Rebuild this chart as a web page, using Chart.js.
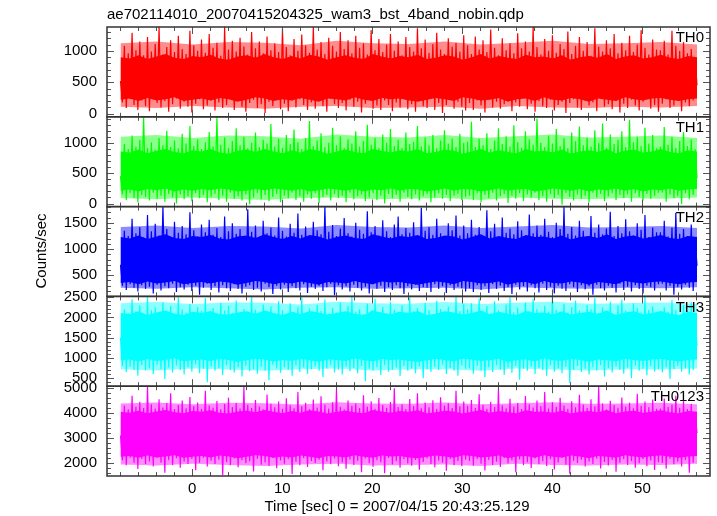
<!DOCTYPE html>
<html>
<head>
<meta charset="utf-8">
<title>ae702114010 wam3 bst 4band light curve</title>
<script src="https://cdn.jsdelivr.net/npm/chart.js@4.4.0/dist/chart.umd.min.js"></script>
<style>
  html, body { margin: 0; padding: 0; background: #fff; }
  #lc { display: block; }
</style>
</head>
<body>
<canvas id="lc" width="717" height="516"></canvas>
<script>
// time range of the light curve (sec, 0 = 2007/04/15 20:43:25.129)
var tStart = -7.96;
var tEnd = 56.06;

// counts/sec, evenly spaced in time (peaks and dips)
var th0 = [
  520, 180, 1080, 90, 960, 230, 1290, 140, 1010, 60, 1150, 210, 930, 120, 1220, 40, 990, 250, 1110, 170,
  1380, 100, 940, 200, 1060, 30, 1170, 150, 980, 240, 1240, 80, 1030, 190, 950, 110, 1320, 20, 1090, 160,
  1000, 230, 1180, 70, 970, 130, 1270, 210, 1050, 50, 1130, 180, 920, 90, 1380, 140, 1020, 240, 1160, 60,
  990, 200, 1210, 110, 1070, 30, 940, 170, 1300, 220, 1040, 90, 1150, 150, 960, 10, 1230, 190, 1010, 120,
  1120, 250, 980, 70, 1350, 160, 1060, 40, 930, 210, 1190, 100, 1000, 230, 1260, 140, 1090, 60, 970, 180,
  1380, 80, 1020, 200, 1140, 120, 950, 30, 1210, 240, 1080, 150, 990, 90, 1300, 170, 1030, 50, 1170, 220,
  960, 110, 1240, 190, 1050, 20, 1120, 160, 940, 230, 1330, 80, 1010, 130, 1190, 60, 980, 210, 1100, 140,
  1270, 40, 1000, 180, 1150, 100, 930, 250, 1220, 70, 1060, 150, 990, 30, 1360, 200, 1040, 120, 1180, 90,
  970, 240, 1110, 60, 1290, 170, 1020, 10, 950, 140, 1200, 220, 1070, 80, 1130, 190, 990, 110, 1250, 50,
  1090, 170, 950, 60, 1230, 210, 1020, 130, 1170, 20, 980, 240, 1340, 100, 1050, 190, 930, 80, 1200, 150,
  1010, 230, 1120, 40, 960, 180, 1280, 110, 1040, 250, 1150, 70, 990, 160, 1380, 30, 1060, 200, 940, 120,
  1190, 90, 1000, 220, 1250, 50, 970, 140, 1110, 190, 1030, 10, 1310, 170, 950, 230, 1080, 100, 1220, 60,
  1000, 210, 1140, 130, 920, 180, 1360, 40, 1070, 240, 990, 110, 1170, 150, 1040, 70, 1270, 200, 960, 20,
  1130, 160, 1010, 90, 1240, 220, 980, 130, 1100, 50, 1330, 190, 1050, 240, 940, 80, 1180, 140, 1020, 30,
  1010, 160, 1160, 230, 940, 90, 1320, 130, 1080, 200, 1000, 40, 1140, 180, 960, 120, 1030, 210, 880, 450
];
var th1 = [
  450, 150, 980, 60, 900, 170, 1120, 90, 940, 20, 1050, 140, 1430, 110, 920, 50, 1010, 180, 890, 80,
  1080, 130, 960, 30, 1200, 160, 930, 100, 1040, 0, 910, 150, 1150, 70, 990, 120, 1280, 40, 950, 170,
  1060, 90, 900, 140, 1010, 20, 1180, 110, 940, 160, 1430, 60, 970, 130, 1090, 30, 920, 180, 1030, 80,
  1240, 120, 960, 50, 1100, 150, 910, -10, 1000, 100, 1170, 170, 930, 70, 1050, 140, 990, 40, 1310, 110,
  940, 160, 1070, 20, 920, 130, 1130, 90, 980, 180, 1220, 60, 1010, 120, 900, 30, 1080, 150, 1360, 80,
  950, 170, 1040, 10, 1160, 110, 930, 140, 1000, 50, 1250, 160, 960, 90, 1110, 130, 920, 20, 1060, 180,
  990, 70, 1190, 120, 940, 150, 1030, 40, 1300, 100, 970, 170, 1080, 60, 910, 130, 1140, 0, 1000, 160,
  1230, 90, 950, 140, 1050, 30, 920, 180, 1170, 110, 980, 70, 1020, 150, 1280, 50, 940, 120, 1090, 160,
  960, 20, 1130, 100, 910, 170, 1040, 80, 1210, 140, 990, 40, 1070, 130, 930, 160, 1150, 60, 1000, 110,
  1020, 130, 1350, 60, 930, 170, 1070, 20, 960, 140, 1160, 90, 900, 180, 1040, 50, 1240, 120, 980, 160,
  1110, 10, 940, 130, 1290, 80, 1010, 170, 920, 40, 1190, 150, 1060, 100, 970, 180, 1400, 60, 1000, 120,
  930, 30, 1120, 160, 990, 90, 1230, 140, 950, -20, 1080, 170, 910, 110, 1170, 50, 1030, 150, 1270, 80,
  960, 130, 1090, 20, 940, 180, 1210, 100, 1000, 160, 1320, 40, 920, 120, 1140, 170, 980, 60, 1050, 140,
  1190, 90, 930, 150, 1380, 30, 1010, 170, 1100, 110, 950, 50, 1250, 160, 990, 80, 1130, 130, 910, 180,
  940, 180, 1260, 30, 970, 150, 1100, 90, 920, 120, 1030, -10, 1180, 170, 950, 70, 1060, 140, 900, 420
];
var th2 = [
  700, 300, 1350, 220, 1250, 330, 1580, 260, 1300, 190, 1420, 310, 1220, 240, 1650, 280, 1340, 150, 1480, 320,
  1260, 210, 1810, 290, 1380, 250, 1230, 340, 1520, 180, 1310, 270, 1440, 230, 1280, 320, 1700, 200, 1360, 300,
  1240, 130, 1470, 260, 1320, 340, 1560, 220, 1270, 290, 1400, 170, 1230, 310, 1620, 250, 1340, 200, 1490, 330,
  1290, 240, 1380, 150, 1250, 280, 1760, 310, 1330, 220, 1450, 260, 1220, 190, 1540, 340, 1300, 270, 1410, 140,
  1260, 300, 1600, 230, 1350, 320, 1240, 180, 1480, 290, 1310, 250, 1680, 210, 1270, 330, 1430, 160, 1230, 280,
  1520, 240, 1360, 300, 1280, 200, 1810, 270, 1330, 340, 1460, 120, 1250, 310, 1390, 230, 1590, 290, 1300, 190,
  1240, 320, 1500, 260, 1370, 210, 1290, 280, 1720, 150, 1320, 330, 1440, 240, 1260, 300, 1550, 180, 1340, 270,
  1230, 220, 1470, 310, 1620, 250, 1280, 140, 1400, 290, 1310, 230, 1510, 320, 1250, 200, 1790, 270, 1350, 260,
  1420, 180, 1270, 330, 1580, 240, 1300, 290, 1230, 160, 1490, 310, 1360, 220, 1640, 280, 1260, 250, 1450, 190,
  1300, 250, 1560, 180, 1270, 310, 1420, 220, 1250, 290, 1740, 160, 1340, 330, 1480, 240, 1230, 300, 1600, 200,
  1310, 270, 1390, 140, 1280, 320, 1530, 230, 1360, 290, 1240, 190, 1660, 310, 1300, 250, 1450, 170, 1270, 340,
  1580, 220, 1330, 280, 1230, 150, 1500, 300, 1380, 240, 1800, 200, 1290, 330, 1420, 270, 1260, 180, 1540, 310,
  1350, 230, 1240, 290, 1630, 130, 1310, 320, 1470, 250, 1280, 210, 1390, 300, 1710, 260, 1250, 170, 1440, 340,
  1300, 220, 1570, 280, 1340, 190, 1260, 310, 1490, 240, 1370, 150, 1650, 300, 1230, 270, 1410, 210, 1320, 330,
  1320, 340, 1540, 210, 1240, 300, 1410, 130, 1690, 270, 1290, 230, 1380, 320, 1250, 260, 1470, 200, 1180, 680
];
var th3 = [
  1500, 800, 2200, 650, 2100, 780, 2450, 700, 2150, 560, 2300, 820, 2080, 690, 2520, 740, 2180, 600, 2250, 830,
  2060, 720, 2380, 480, 2140, 760, 2280, 640, 2090, 810, 2500, 700, 2200, 590, 2120, 770, 2330, 660, 2070, 840,
  2260, 620, 2160, 730, 2480, 400, 2100, 790, 2230, 680, 2050, 750, 2360, 580, 2170, 820, 2290, 700, 2110, 640,
  2420, 760, 2080, 540, 2210, 800, 2140, 670, 2520, 720, 2190, 610, 2060, 780, 2320, 690, 2150, 450, 2270, 830,
  2090, 740, 2400, 630, 2180, 770, 2030, 700, 2350, 560, 2130, 810, 2250, 650, 2500, 760, 2100, 600, 2220, 720,
  2070, 790, 2310, 680, 2160, 530, 2440, 740, 2090, 820, 2240, 640, 2120, 710, 2370, 590, 2060, 780, 2280, 670,
  2510, 750, 2140, 620, 2200, 800, 2080, 420, 2340, 730, 2170, 690, 2460, 770, 2110, 580, 2260, 820, 2050, 660,
  2390, 710, 2190, 760, 2130, 550, 2300, 800, 2070, 680, 2490, 740, 2150, 620, 2230, 790, 2100, 500, 2360, 720,
  2180, 650, 2040, 780, 2410, 700, 2210, 830, 2120, 600, 2270, 750, 2080, 680, 2520, 560, 2160, 810, 2330, 730,
  2200, 740, 2350, 610, 2080, 800, 2470, 690, 2150, 520, 2280, 770, 2100, 650, 2400, 820, 2180, 710, 2060, 580,
  2320, 760, 2500, 630, 2130, 800, 2240, 460, 2090, 730, 2370, 680, 2160, 790, 2450, 600, 2210, 750, 2070, 700,
  2290, 560, 2140, 820, 2520, 660, 2190, 740, 2050, 620, 2340, 780, 2120, 380, 2260, 710, 2420, 800, 2170, 650,
  2080, 730, 2310, 590, 2200, 770, 2480, 690, 2110, 820, 2250, 540, 2150, 750, 2390, 640, 2060, 790, 2300, 700,
  2440, 610, 2170, 760, 2090, 500, 2350, 810, 2230, 680, 2120, 740, 2510, 570, 2190, 800, 2270, 660, 2100, 720,
  2090, 640, 2250, 770, 2140, 480, 2430, 720, 2190, 800, 2060, 660, 2310, 740, 2170, 590, 2380, 700, 2000, 1300
];
var th0123 = [
  3100, 2100, 4300, 1900, 4150, 2200, 4700, 2000, 4250, 1750, 4450, 2150, 4200, 1950, 5080, 2050, 4350, 1850, 4180, 2200,
  4550, 2000, 4220, 1600, 4400, 2100, 4800, 1900, 4160, 2180, 4320, 1800, 4500, 2050, 4190, 1950, 4650, 2150, 4280, 1700,
  4420, 2000, 4170, 2200, 4900, 1850, 4300, 2080, 4210, 1950, 4480, 2120, 4150, 1500, 4360, 2030, 4620, 1900, 4240, 2170,
  4400, 1820, 4180, 2100, 5050, 1980, 4330, 2060, 4200, 1650, 4520, 2150, 4260, 1920, 4150, 2010, 4750, 1870, 4370, 2190,
  4230, 1780, 4460, 2090, 4170, 1960, 4590, 2140, 4310, 1550, 4190, 2040, 4850, 1900, 4270, 2180, 4410, 1830, 4160, 2070,
  4540, 1990, 4220, 2120, 4680, 1700, 4340, 2050, 4180, 1940, 4430, 2160, 4960, 1860, 4250, 2010, 4150, 1760, 4500, 2130,
  4290, 1910, 4380, 2080, 4200, 1620, 4720, 2170, 4260, 1980, 4470, 1840, 4170, 2100, 4600, 2020, 4320, 1580, 4210, 2190,
  4440, 1930, 5000, 2060, 4240, 1800, 4350, 2140, 4160, 1970, 4560, 1880, 4280, 2110, 4800, 1720, 4190, 2030, 4420, 2180,
  4230, 1950, 4510, 1820, 4170, 2090, 4640, 2000, 4300, 1680, 4390, 2150, 4200, 1900, 4900, 2070, 4270, 1860, 4460, 2120,
  4290, 2070, 4520, 1880, 4200, 2150, 4760, 1960, 4330, 1690, 4170, 2110, 4450, 1910, 4240, 2040, 4980, 1830, 4310, 2180,
  4190, 1970, 4570, 2090, 4260, 1620, 4400, 2130, 4160, 1900, 4690, 2020, 4350, 1790, 4220, 2170, 4500, 1940, 4280, 2060,
  4850, 1870, 4180, 2140, 4430, 1730, 4250, 2010, 4610, 2190, 4300, 1920, 4170, 1560, 4470, 2080, 4230, 1990, 4740, 2120,
  4340, 1850, 4200, 2050, 4550, 1950, 4270, 2160, 5060, 1770, 4380, 2030, 4150, 1890, 4490, 2110, 4320, 1640, 4210, 2000,
  4630, 2140, 4260, 1910, 4410, 2070, 4190, 1800, 4780, 1980, 4290, 2150, 4460, 1860, 4230, 2090, 4540, 1710, 4170, 2020,
  4180, 1990, 4580, 1760, 4250, 2160, 4340, 1940, 4700, 2040, 4210, 1850, 4480, 2100, 4160, 1600, 4370, 2000, 4050, 3200
];

// edges of the solid middle of each band, one value per second
var th0CoreHi = [
  900, 880, 930, 870, 910, 950, 890, 870, 920, 900, 940, 880, 860, 910, 930, 890, 950, 900, 870, 920,
  880, 940, 910, 860, 900, 930, 890, 870, 950, 910, 880, 920, 900, 940, 870, 890, 930, 910, 860, 900,
  950, 880, 920, 890, 870, 940, 900, 910, 880, 930, 860, 900, 920, 890, 950, 870, 910, 930, 880, 900,
  940, 890, 870, 920, 900
];
var th0CoreLo = [
  220, 240, 200, 250, 210, 230, 260, 200, 220, 240, 210, 250, 230, 190, 220, 260, 240, 200, 230, 210,
  250, 220, 190, 240, 230, 210, 260, 220, 200, 250, 230, 240, 210, 190, 220, 250, 230, 200, 260, 240,
  210, 220, 250, 190, 230, 240, 200, 260, 220, 210, 250, 230, 190, 240, 220, 200, 260, 230, 210, 240,
  250, 220, 200, 230, 240
];
var th1CoreHi = [
  860, 840, 890, 830, 870, 900, 850, 830, 880, 860, 900, 840, 820, 870, 890, 850, 900, 860, 830, 880,
  840, 900, 870, 820, 860, 890, 850, 830, 900, 870, 840, 880, 860, 900, 830, 850, 890, 870, 820, 860,
  900, 840, 880, 850, 830, 900, 860, 870, 840, 890, 820, 860, 880, 850, 900, 830, 870, 890, 840, 860,
  900, 850, 830, 880, 860
];
var th1CoreLo = [
  210, 230, 200, 240, 220, 250, 200, 230, 210, 240, 220, 250, 230, 200, 210, 240, 220, 250, 230, 210,
  240, 200, 220, 250, 230, 210, 240, 200, 230, 220, 250, 210, 240, 230, 200, 220, 250, 210, 240, 230,
  200, 220, 250, 210, 230, 240, 200, 220, 250, 230, 210, 240, 200, 230, 220, 250, 210, 240, 200, 230,
  220, 250, 210, 230, 240
];
var th2CoreHi = [
  1230, 1200, 1260, 1190, 1240, 1280, 1210, 1190, 1250, 1230, 1270, 1200, 1180, 1240, 1260, 1210, 1280, 1230, 1190, 1250,
  1200, 1270, 1240, 1180, 1230, 1260, 1210, 1190, 1280, 1240, 1200, 1250, 1230, 1270, 1190, 1210, 1260, 1240, 1180, 1230,
  1280, 1200, 1250, 1210, 1190, 1270, 1230, 1240, 1200, 1260, 1180, 1230, 1250, 1210, 1280, 1190, 1240, 1260, 1200, 1230,
  1270, 1210, 1190, 1250, 1230
];
var th2CoreLo = [
  350, 370, 330, 380, 340, 360, 390, 330, 350, 370, 340, 380, 360, 320, 350, 390, 370, 330, 360, 340,
  380, 350, 320, 370, 360, 340, 390, 350, 330, 380, 360, 370, 340, 320, 350, 380, 360, 330, 390, 370,
  340, 350, 380, 320, 360, 370, 330, 390, 350, 340, 380, 360, 320, 370, 350, 330, 390, 360, 340, 370,
  380, 350, 330, 360, 370
];
var th3CoreHi = [
  2110, 2080, 2150, 2060, 2120, 2170, 2090, 2060, 2140, 2110, 2160, 2080, 2070, 2120, 2150, 2090, 2170, 2110, 2060, 2140,
  2080, 2160, 2120, 2070, 2110, 2150, 2090, 2060, 2170, 2120, 2080, 2140, 2110, 2160, 2060, 2090, 2150, 2120, 2070, 2110,
  2170, 2080, 2140, 2090, 2060, 2160, 2110, 2120, 2080, 2150, 2070, 2110, 2140, 2090, 2170, 2060, 2120, 2150, 2080, 2110,
  2160, 2090, 2060, 2140, 2110
];
var th3CoreLo = [
  940, 960, 910, 970, 920, 950, 990, 910, 940, 960, 920, 970, 950, 900, 940, 980, 960, 910, 950, 920,
  970, 940, 900, 960, 950, 920, 990, 940, 910, 970, 950, 960, 920, 900, 940, 970, 950, 910, 980, 960,
  920, 940, 970, 900, 950, 960, 910, 990, 940, 920, 970, 950, 900, 960, 940, 910, 980, 950, 920, 960,
  970, 940, 910, 950, 960
];
var th0123CoreHi = [
  4050, 4010, 4090, 3990, 4060, 4120, 4030, 3990, 4080, 4050, 4110, 4010, 3980, 4060, 4090, 4030, 4120, 4050, 3990, 4080,
  4010, 4110, 4060, 3980, 4050, 4090, 4030, 3990, 4120, 4060, 4010, 4080, 4050, 4110, 3990, 4030, 4090, 4060, 3980, 4050,
  4120, 4010, 4080, 4030, 3990, 4110, 4050, 4060, 4010, 4090, 3980, 4050, 4080, 4030, 4120, 3990, 4060, 4090, 4010, 4050,
  4110, 4030, 3990, 4080, 4050
];
var th0123CoreLo = [
  2240, 2270, 2200, 2290, 2210, 2250, 2300, 2200, 2240, 2270, 2210, 2290, 2250, 2180, 2240, 2300, 2270, 2200, 2250, 2210,
  2290, 2240, 2180, 2270, 2250, 2210, 2300, 2240, 2200, 2290, 2250, 2270, 2210, 2180, 2240, 2290, 2250, 2200, 2300, 2270,
  2210, 2240, 2290, 2180, 2250, 2270, 2200, 2300, 2240, 2210, 2290, 2250, 2180, 2270, 2240, 2200, 2300, 2250, 2210, 2270,
  2290, 2240, 2200, 2250, 2270
];

// the half-covered fringe around each band, one value every ~4 sec
var th0FringeHi = [1120, 1150, 1100, 1140, 1130, 1090, 1160, 1120, 1110, 1150, 1100, 1130, 1160, 1110, 1120, 1140, 1100];
var th0FringeLo = [110, 90, 120, 100, 80, 110, 120, 90, 100, 110, 80, 120, 100, 90, 110, 100, 120];
var th1FringeHi = [1100, 1130, 1080, 1120, 1110, 1070, 1140, 1100, 1090, 1130, 1080, 1110, 1140, 1090, 1100, 1120, 1080];
var th1FringeLo = [90, 70, 100, 80, 60, 90, 100, 70, 80, 90, 60, 100, 80, 70, 90, 80, 100];
var th2FringeHi = [1420, 1450, 1400, 1440, 1430, 1390, 1460, 1420, 1410, 1450, 1400, 1430, 1460, 1410, 1420, 1440, 1400];
var th2FringeLo = [260, 240, 270, 250, 230, 260, 270, 240, 250, 260, 230, 270, 250, 240, 260, 250, 270];
var th3FringeHi = [2350, 2380, 2330, 2370, 2360, 2320, 2390, 2350, 2340, 2380, 2330, 2360, 2390, 2340, 2350, 2370, 2330];
var th3FringeLo = [720, 690, 740, 710, 680, 720, 740, 690, 710, 720, 680, 740, 710, 690, 720, 710, 740];
var th0123FringeHi = [4380, 4420, 4350, 4410, 4390, 4340, 4430, 4380, 4370, 4420, 4350, 4390, 4430, 4370, 4380, 4410, 4350];
var th0123FringeLo = [1930, 1890, 1960, 1910, 1870, 1930, 1960, 1890, 1910, 1930, 1870, 1960, 1910, 1890, 1930, 1910, 1960];

var panelNames = ["TH0", "TH1", "TH2", "TH3", "TH0123"];
var panelMin = [-50, -50, 96, 300, 1470];
var panelMax = [1380, 1430, 1810, 2520, 5080];
var th0Ticks = [0, 500, 1000];
var th1Ticks = [0, 500, 1000];
var th2Ticks = [500, 1000, 1500];
var th3Ticks = [500, 1000, 1500, 2000, 2500];
var th0123Ticks = [2000, 3000, 4000, 5000];
var panelMinor = [100, 100, 100, 100, 200];

var xMin = -9.46, xMax = 57.5;
var xTicks = [0, 10, 20, 30, 40, 50];
var xMinor = 2;

var curves = [th0, th1, th2, th3, th0123];
var coreHi = [th0CoreHi, th1CoreHi, th2CoreHi, th3CoreHi, th0123CoreHi];
var coreLo = [th0CoreLo, th1CoreLo, th2CoreLo, th3CoreLo, th0123CoreLo];
var fringeHi = [th0FringeHi, th1FringeHi, th2FringeHi, th3FringeHi, th0123FringeHi];
var fringeLo = [th0FringeLo, th1FringeLo, th2FringeLo, th3FringeLo, th0123FringeLo];
var panelTicks = [th0Ticks, th1Ticks, th2Ticks, th3Ticks, th0123Ticks];
var colors = ["#ff0000", "#00ff00", "#0000ff", "#00ffff", "#ff00ff"];
var fringeColors = ["rgba(255,0,0,0.45)", "rgba(0,255,0,0.45)", "rgba(0,0,255,0.45)", "rgba(0,255,255,0.45)", "rgba(255,0,255,0.45)"];

var FONT = '"Liberation Sans", Arial, Helvetica, sans-serif';

function toPoints(values) {
  var step = (tEnd - tStart) / (values.length - 1);
  return values.map(function (v, i) {
    return { x: tStart + i * step, y: v };
  });
}

function fixedTicks(list) {
  return function (scale) {
    scale.ticks = list.map(function (v) { return { value: v }; });
  };
}

function line(ctx, x1, y1, x2, y2) {
  ctx.beginPath();
  ctx.moveTo(x1, y1);
  ctx.lineTo(x2, y2);
  ctx.stroke();
}

function band(label, values, id, color, fill) {
  return {
    label: label,
    data: toPoints(values),
    yAxisID: id,
    borderColor: "rgba(0,0,0,0)",
    borderWidth: 0,
    backgroundColor: color,
    pointRadius: 0,
    fill: fill
  };
}

// clips each curve to its own panel, draws frames, inward ticks and texts
var framePlugin = {
  id: "frames",
  beforeDatasetDraw: function (chart, args) {
    var s = chart.scales[args.meta.yAxisID];
    var a = chart.chartArea;
    chart.ctx.save();
    chart.ctx.beginPath();
    chart.ctx.rect(a.left, s.top, a.right - a.left, s.bottom - s.top);
    chart.ctx.clip();
  },
  afterDatasetDraw: function (chart) {
    chart.ctx.restore();
  },
  afterDraw: function (chart) {
    var ctx = chart.ctx;
    var a = chart.chartArea;
    var xs = chart.scales.x;
    ctx.save();
    for (var p = 0; p < panelNames.length; p++) {
      var s = chart.scales["y" + p];
      ctx.strokeStyle = "#555";
      ctx.lineWidth = 1;
      for (var v = Math.ceil(s.min / panelMinor[p]) * panelMinor[p]; v <= s.max; v += panelMinor[p]) {
        var y = Math.round(s.getPixelForValue(v)) + 0.5;
        var len = panelTicks[p].indexOf(v) >= 0 ? 7 : 4;
        line(ctx, a.left, y, a.left + len, y);
        line(ctx, a.right, y, a.right - len, y);
      }
      for (var t = Math.ceil(xs.min / xMinor) * xMinor; t <= xs.max; t += xMinor) {
        var x = Math.round(xs.getPixelForValue(t)) + 0.5;
        var tl = xTicks.indexOf(t) >= 0 ? 7 : 4;
        line(ctx, x, s.top, x, s.top + tl);
        line(ctx, x, s.bottom, x, s.bottom - tl);
      }
      ctx.strokeStyle = "#333";
      ctx.lineWidth = 1.5;
      ctx.strokeRect(a.left, s.top, a.right - a.left, s.bottom - s.top);

      ctx.fillStyle = "#000";
      ctx.font = "15px " + FONT;
      ctx.textAlign = "right";
      ctx.textBaseline = "middle";
      ctx.fillText(panelNames[p], a.right - 6, s.top + 11);
    }

    ctx.fillStyle = "#000";
    ctx.font = "15px " + FONT;
    ctx.textAlign = "left";
    ctx.textBaseline = "middle";
    ctx.fillText("ae702114010_20070415204325_wam3_bst_4band_nobin.qdp", 107, 15);

    ctx.textAlign = "center";
    ctx.fillText("Time [sec] 0 = 2007/04/15 20:43:25.129", 397, 507);

    ctx.save();
    ctx.translate(42, 251);
    ctx.rotate(-Math.PI / 2);
    ctx.fillText("Counts/sec", 0, 0);
    ctx.restore();

    ctx.restore();
  }
};

var tickFont = { family: FONT, size: 15 };
var datasets = [];
var scales = {
  x: {
    type: "linear",
    position: "bottom",
    min: xMin,
    max: xMax,
    grid: { display: false, drawTicks: false },
    border: { display: false },
    afterBuildTicks: fixedTicks(xTicks),
    ticks: {
      maxRotation: 0,
      autoSkip: false,
      padding: 4,
      color: "#000",
      font: tickFont,
      callback: function (v) { return String(v); }
    },
    afterFit: function (s) { s.height = 40; }
  }
};

for (var p = 0; p < panelNames.length; p++) {
  var id = "y" + p;
  scales[id] = {
    type: "linear",
    position: "left",
    stack: "panels",
    stackWeight: 1,
    weight: panelNames.length - p,
    min: panelMin[p],
    max: panelMax[p],
    grid: { display: false, drawTicks: false },
    border: { display: false },
    afterBuildTicks: fixedTicks(panelTicks[p]),
    ticks: {
      autoSkip: false,
      padding: 10,
      color: "#000",
      font: tickFont,
      callback: function (v) { return String(v); }
    },
    afterFit: function (s) { s.width = 107; }
  };

  // drawn last index first: fringe, then core, then the curve on top
  datasets.push({
    label: panelNames[p],
    data: toPoints(curves[p]),
    yAxisID: id,
    borderColor: colors[p],
    borderWidth: 1.2,
    pointRadius: 0,
    tension: 0,
    fill: false
  });
  datasets.push(band(panelNames[p] + " core", coreHi[p], id, colors[p], "+1"));
  datasets.push(band(panelNames[p] + " core low", coreLo[p], id, colors[p], false));
  datasets.push(band(panelNames[p] + " fringe", fringeHi[p], id, fringeColors[p], "+1"));
  datasets.push(band(panelNames[p] + " fringe low", fringeLo[p], id, fringeColors[p], false));
}

new Chart(document.getElementById("lc").getContext("2d"), {
  type: "line",
  data: { datasets: datasets },
  options: {
    responsive: false,
    animation: false,
    devicePixelRatio: 1,
    events: [],
    layout: { padding: { left: 0, top: 27, right: 7, bottom: 0 } },
    plugins: {
      legend: { display: false },
      tooltip: { enabled: false },
      title: { display: false }
    },
    scales: scales
  },
  plugins: [framePlugin]
});
</script>
</body>
</html>
